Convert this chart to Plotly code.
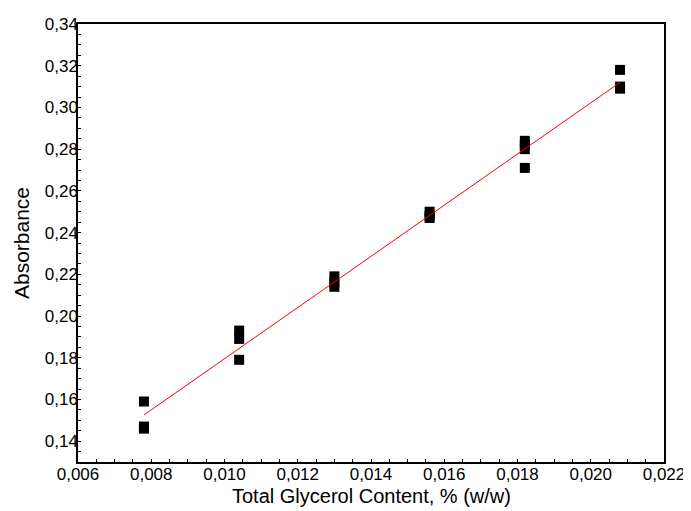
import numpy as np
import plotly.graph_objects as go

# Data
glycerol = [0.0078, 0.0078, 0.0078,
            0.0104, 0.0104, 0.0104,
            0.0130, 0.0130, 0.0130,
            0.0156, 0.0156, 0.0156,
            0.0182, 0.0182, 0.0182, 0.0182,
            0.0208, 0.0208, 0.0208]
absorbance = [0.159, 0.147, 0.146,
              0.193, 0.189, 0.179,
              0.219, 0.216, 0.214,
              0.250, 0.248, 0.247,
              0.284, 0.282, 0.280, 0.271,
              0.318, 0.310, 0.309]

x_title = "Total Glycerol Content, % (w/w)"
y_title = "Absorbance"

# Linear fit
slope, intercept = np.polyfit(glycerol, absorbance, 1)
fit_x = [min(glycerol), max(glycerol)]
fit_y = [slope * v + intercept for v in fit_x]

fig = go.Figure()
fig.add_trace(go.Scatter(
    x=glycerol, y=absorbance, mode="markers",
    marker=dict(symbol="square", size=10, color="black", line=dict(width=0)),
    showlegend=False,
))
fig.add_trace(go.Scatter(
    x=fit_x, y=fit_y, mode="lines",
    line=dict(color="red", width=1),
    showlegend=False,
))

font_family = "Liberation Sans, Arial, sans-serif"
axis_common = dict(
    showline=True, linecolor="black", linewidth=1.5, mirror=True,
    showgrid=False, zeroline=False, automargin=False,
    ticks="inside", ticklen=3, tickcolor="black", tickwidth=1,
    minor=dict(ticks="inside", ticklen=3, tickcolor="black", tickwidth=1, showgrid=False),
    tickfont=dict(family=font_family, size=17, color="black"),
)

fig.update_layout(
    width=683, height=503,
    margin=dict(l=70, r=27, t=16, b=49),
    paper_bgcolor="white", plot_bgcolor="white",
    separators=",.",
    font=dict(family=font_family, color="black"),
    xaxis=dict(
        range=[0.006, 0.022], dtick=0.002, tick0=0.006, tickformat=".3f",
        ticklabelstandoff=-4,
        **axis_common,
    ),
    yaxis=dict(
        range=[0.13, 0.34], dtick=0.02, tick0=0.14, tickformat=".2f",
        title=dict(text=y_title, font=dict(size=21), standoff=9),
        ticklabelstandoff=-5,
        **axis_common,
    ),
    annotations=[dict(
        text=x_title, xref="paper", yref="paper", x=0.5, y=0,
        xanchor="center", yanchor="middle", yshift=-34, showarrow=False,
        font=dict(family=font_family, size=20, color="black"),
    )],
)

fig.write_html("out.html")
